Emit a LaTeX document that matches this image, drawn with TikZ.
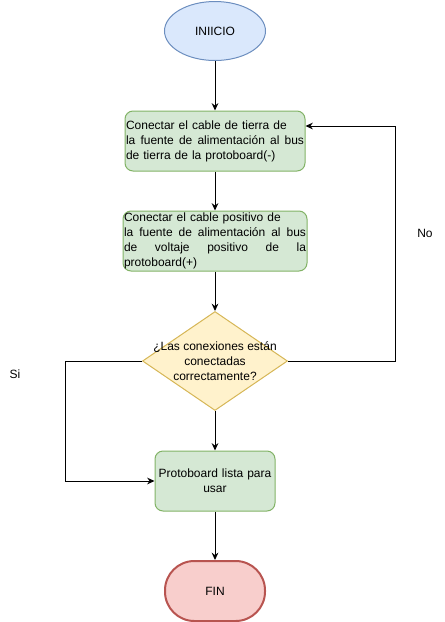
\documentclass[tikz,border=0pt]{standalone}
\usepackage{fontspec}
\setmainfont{Liberation Sans}
\usetikzlibrary{shapes.geometric,arrows.meta}
\setlength{\parindent}{0pt}

\definecolor{azulfondo}{HTML}{DAE8FC}
\definecolor{azulborde}{HTML}{6C8EBF}
\definecolor{verdefondo}{HTML}{D5E8D4}
\definecolor{verdeborde}{HTML}{82B366}
\definecolor{amarillofondo}{HTML}{FFF2CC}
\definecolor{amarilloborde}{HTML}{D6B656}
\definecolor{rojofondo}{HTML}{F8CECC}
\definecolor{rojoborde}{HTML}{B85450}

% justified line of a given width
\newcommand{\ancho}[2]{\leavevmode\hbox to #1{#2}}

\begin{document}
\begin{tikzpicture}[x=0.75pt,y=-0.75pt,
font=\fontsize{9}{11.25}\selectfont,
inicio/.style={ellipse,draw=azulborde,fill=azulfondo,line width=0.75pt,
  minimum width=75.75pt,minimum height=44.25pt},
paso/.style={rectangle,rounded corners=6pt,draw=verdeborde,fill=verdefondo,
  line width=0.75pt,align=left,inner xsep=0.75pt,inner ysep=0pt,minimum height=45pt},
decision/.style={diamond,draw=amarilloborde,fill=amarillofondo,line width=0.75pt,
  minimum width=108.75pt,minimum height=74.25pt,inner sep=0pt},
final/.style={rectangle,rounded corners=22pt,draw=rojoborde,fill=rojofondo,
  line width=1.5pt,minimum width=75pt,minimum height=45pt},
flecha/.style={-{Stealth[length=5.5pt,width=5pt]},line width=0.75pt}
]
\useasboundingbox (0,0) rectangle (445,622);

\node[inicio] (inicio) at (215,31) {INIICIO};
\node[paso,text width=133.5pt] (tierra) at (215,141)
  {Conectar el cable de tierra de\\
   \ancho{133.5pt}{la\hfill fuente\hfill de\hfill alimentación\hfill al\hfill bus}\\
   de tierra de la protoboard(-)};
\node[paso,text width=136.5pt] (positivo) at (215,241)
  {Conectar el cable positivo de\\
   \ancho{136.5pt}{la\hfill fuente\hfill de\hfill alimentación\hfill al\hfill bus}\\
   \ancho{136.5pt}{de\hfill voltaje\hfill positivo\hfill de\hfill la}\\
   protoboard(+)};
\node[decision,label={[align=center]center:¿Las conexiones están\\conectadas\\correctamente?}]
  (revision) at (215,361) {};
\node[paso,align=center,text width=88.5pt] (lista) at (215,481)
  {Protoboard lista para\\usar};
\node[final] (fin) at (215,591) {FIN};

\node (etiqNo) at (425,233) {No};
\node (etiqSi) at (15,374) {Si};

\coordinate (esquinaNo) at (395,126);
\coordinate (esquinaSi) at (65,361);

\draw[flecha] (inicio) -- (tierra);
\draw[flecha] (tierra) -- (positivo);
\draw[flecha] (positivo) -- (revision);
\draw[flecha] (revision) -- (lista);
\draw[flecha] (lista) -- (fin);
\draw[flecha] (revision.east) -| (esquinaNo) -- (tierra.east |- esquinaNo);
\draw[flecha] (revision.west) -- (esquinaSi) |- (lista.west);
\end{tikzpicture}
\end{document}
